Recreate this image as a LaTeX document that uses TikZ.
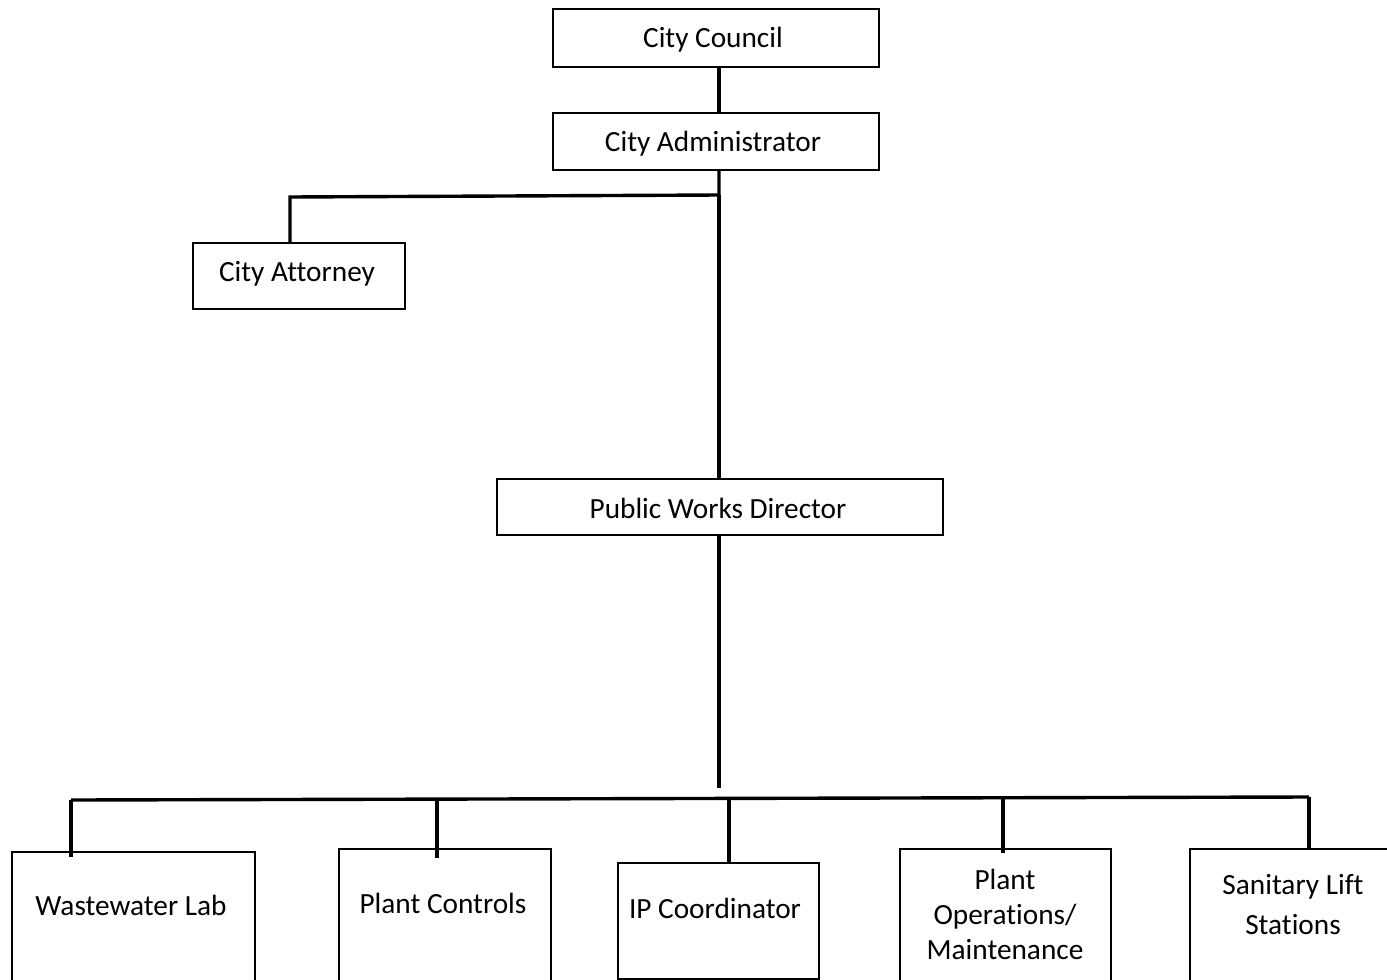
\documentclass[tikz,border=0pt]{standalone}
\usepackage{fontspec}
\setmainfont{Carlito}[Ligatures={NoCommon}]
\begin{document}
\begin{tikzpicture}[x=1pt,y=-1pt,
  orgbox/.style={draw, line width=1.6pt, inner sep=0pt, anchor=north west},
  lbl/.style={font=\fontsize{29.3}{35}\selectfont, align=center, inner sep=0pt},
  link/.style={line width=3.4pt}]
\useasboundingbox (0,0) rectangle (1387,980);
\clip (0,0) rectangle (1387,980);

% upper chain
\node[orgbox, minimum width=326, minimum height=58] (cc) at (552,8) {};
\node[lbl] (cct) at (713,40) {City Council};
\node[orgbox, minimum width=326, minimum height=57] (ca) at (552,112) {};
\node[lbl] (cat) at (713,144) {City Administrator};
\node[orgbox, minimum width=212, minimum height=66] (att) at (192,242) {};
\node[lbl] (attt) at (297,274) {City Attorney};
\node[orgbox, minimum width=446, minimum height=56] (pwd) at (496,478) {};
\node[lbl] (pwdt) at (718,508) {Public Works Director};

% divisions (boxes run past the lower edge)
\node[orgbox, minimum width=243, minimum height=160] (wl) at (11,851) {};
\node[lbl] (wlt) at (131,905) {Wastewater Lab};
\node[orgbox, minimum width=212, minimum height=160] (pc) at (338,848) {};
\node[lbl] (pct) at (443,903) {Plant Controls};
\node[orgbox, minimum width=201, minimum height=116] (ip) at (617,862) {};
\node[lbl] (ipt) at (715,908) {IP Coordinator};
\node[orgbox, minimum width=211, minimum height=160] (po) at (899,848) {};
\node[lbl] (pot) at (1005,914) {Plant\\Operations/\\Maintenance};
\node[orgbox, minimum width=220, minimum height=160] (sl) at (1189,848) {};
\node[lbl, font=\fontsize{29.3}{40}\selectfont] (slt) at (1293,905) {Sanitary Lift\\Stations};

% junction points
\coordinate (j1) at (719,195);
\coordinate (a1) at (290,197);
\coordinate (j2) at (719,788);
\coordinate (busL) at (71,800);
\coordinate (busR) at (1309,797);

% connectors
\draw[link] (cc.south -| j1) -- (ca.north -| j1);
\draw[link] (ca.south -| j1) -- (j1) -- (a1) -- (att.north -| a1);
\draw[link] (j1) -- (pwd.north -| j1);
\draw[link] (pwd.south -| j1) -- (j2);
\draw[link] (busL) -- (busR);
\draw[link] (busL) -- ([yshift=-6]wl.north -| busL);
\draw[link] (437,799) -- ([yshift=-10]pc.north -| 437,0);
\draw[link] (729,798) -- (ip.north -| 729,0);
\draw[link] (1003,798) -- ([yshift=-5]po.north -| 1003,0);
\draw[link] (busR) -- (sl.north -| busR);
\end{tikzpicture}
\end{document}
